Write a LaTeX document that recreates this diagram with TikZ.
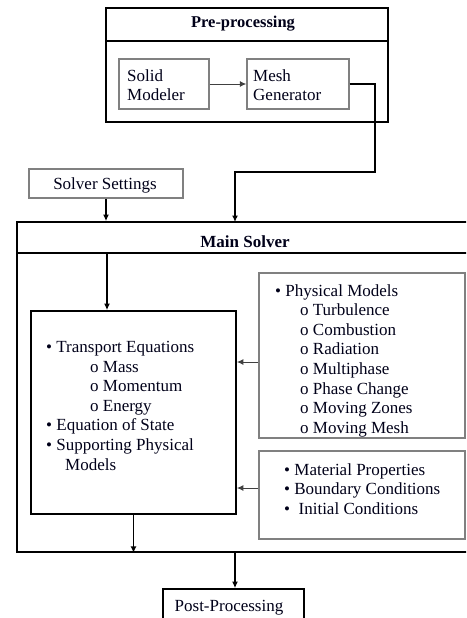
\documentclass[tikz,border=0pt]{standalone}
\usepackage{fontspec}
\setmainfont{Liberation Serif}
\usetikzlibrary{arrows.meta}
\begin{document}
\begin{tikzpicture}[x=1pt,y=-1pt,
  txt/.style={font=\fontsize{17}{19.6}\selectfont, inner sep=0pt, text=black!90!blue},
  thickbox/.style={draw=black, line width=1.8pt, inner sep=0pt},
  greybox/.style={draw=black!50, line width=1.3pt, inner sep=0pt},
  arr/.style={draw=black, line width=1.6pt, -{Latex[length=6.5pt,width=6pt]}},
  thinarr/.style={draw=black!75, line width=1pt, -{Latex[length=6.5pt,width=6pt]}}]
\clip (0,0) rectangle (466,618);
\fill[white] (0,0) rectangle (466,618);

% Pre-processing
\node[thickbox, minimum width=282pt, minimum height=114pt] (pre) at (247,65) {};
\draw[line width=1.8pt] (pre.west |- 0,41) -- (pre.east |- 0,41);
\node[txt, font=\fontsize{16.5}{19.5}\selectfont\bfseries] (pretitle) at (243,24) {Pre-processing};
\node[greybox, minimum width=90pt, minimum height=50pt] (solid) at (164,84) {};
\node[txt, align=left, anchor=west] (solidt) at (127,85) {Solid\\Modeler};
\node[greybox, minimum width=102pt, minimum height=50pt] (mesh) at (298,84) {};
\node[txt, align=left, anchor=west] (mesht) at (253,85) {Mesh\\Generator};
\draw[thinarr] (solid) -- (mesh);

% Solver settings
\node[greybox, minimum width=154pt, minimum height=29pt] (settings) at (106,183.5) {};
\node[txt] (settingst) at (105,185) {Solver Settings};

% Main solver
\node[thickbox, minimum width=463pt, minimum height=330pt] (main) at (248.5,387) {};
\draw[line width=1.8pt] (main.west |- 0,253) -- (main.east |- 0,253);
\node[txt, font=\fontsize{17}{19.5}\selectfont\bfseries] (maint) at (245,242) {Main Solver};
\coordinate (bend) at (375,172);
\coordinate (msin) at (235,222);
\draw[arr] (mesh.east) -| (bend) -| (msin);
\draw[arr] (settings.south) -- (settings.south |- main.north);

% Inner box
\node[thickbox, minimum width=205pt, minimum height=203pt] (inner) at (133.5,412.5) {};
\coordinate (divl) at (107,253);
\draw[arr] (divl) -- (divl |- inner.north);
\node[txt, align=left, anchor=north west] (innert) at (46,341) {%
\textbullet\ Transport Equations\\
\hspace*{44pt}o Mass\\
\hspace*{44pt}o Momentum\\
\hspace*{44pt}o Energy\\
\textbullet\ Equation of State\\
\textbullet\ Supporting Physical\\
\hspace*{19pt}Models};

% Physical models
\node[greybox, minimum width=206pt, minimum height=165pt] (phys) at (362,355.5) {};
\node[txt, align=left, anchor=north west] (physt) at (275,284) {%
\textbullet\ Physical Models\\
\hspace*{25pt}o Turbulence\\
\hspace*{25pt}o Combustion\\
\hspace*{25pt}o Radiation\\
\hspace*{25pt}o Multiphase\\
\hspace*{25pt}o Phase Change\\
\hspace*{25pt}o Moving Zones\\
\hspace*{25pt}o Moving Mesh};
\coordinate (pa) at (0,362);
\draw[thinarr] (phys.west |- pa) -- (inner.east |- pa);

% Material properties
\node[greybox, minimum width=206pt, minimum height=88pt] (mat) at (362,495) {};
\node[txt, align=left, anchor=north west] (matt) at (284,463) {%
\textbullet\ Material Properties\\
\textbullet\ Boundary Conditions\\
\textbullet\ \ Initial Conditions};
\coordinate (ma) at (0,488);
\draw[thinarr] (mat.west |- ma) -- (inner.east |- ma);

% Outputs
\draw[arr] (inner.south) -- (inner.south |- main.south);
\node[thickbox, minimum width=141pt, minimum height=45pt] (post) at (233.5,611.5) {};
\node[txt] (postt) at (229,608) {Post-Processing};
\coordinate (mout) at (235,552);
\draw[arr] (mout) -- (mout |- post.north);
\end{tikzpicture}
\end{document}
